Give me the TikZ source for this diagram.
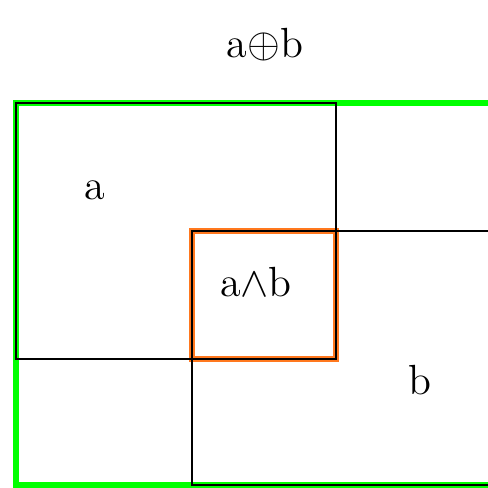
\documentclass[tikz,border=0pt]{standalone}
\usepackage{amsmath,amssymb}
\usepackage{xcolor}
\usepackage{tikz}
\definecolor{joingreen}{RGB}{0,255,0}
\definecolor{meetorange}{RGB}{255,120,30}
\tikzset{
setbox/.style={rectangle,draw=black,line width=0.75pt,inner sep=0pt,outer sep=0pt},
joinbox/.style={setbox,draw=joingreen,line width=1.5pt},
meetbox/.style={setbox,draw=meetorange,line width=1.55pt},
setlabel/.style={font=\fontsize{12}{14}\selectfont,inner sep=1pt}
}
\begin{document}
\begin{tikzpicture}[
x=1cm,
y=1cm
]
\useasboundingbox (0,0) rectangle (4.88,4.87);
\clip (0,0) rectangle (4.88,4.87);
\node[joinbox,minimum width=4.84cm,minimum height=3.82cm]
  (join) at (2.58,1.93) {};
\node[meetbox,minimum width=1.44cm,minimum height=1.28cm]
  (meet) at (2.64,1.92) {};
\node[setbox,minimum width=3.20cm,minimum height=2.56cm]
  (seta) at (1.76,2.56) {};
\node[setbox,minimum width=3.08cm,minimum height=2.54cm]
  (setb) at (3.46,1.29) {};
\node[setlabel] (labjoin) at (2.65,4.42) {a$\oplus$b};
\node[setlabel] (laba) at (0.95,2.97) {a};
\node[setlabel] (labmeet) at (2.56,2.05) {a$\wedge$b};
\node[setlabel] (labb) at (4.20,1.07) {b};
\end{tikzpicture}
\end{document}
